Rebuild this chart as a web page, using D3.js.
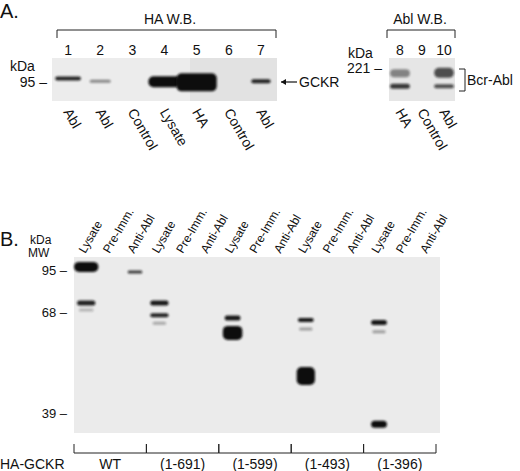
<!DOCTYPE html>
<html>
<head>
<style>
  html, body { margin: 0; background: #fff; }
  text { font-family: "Liberation Sans", Arial, sans-serif; fill: #111; }
</style>
<script src="https://d3js.org/d3.v7.min.js"></script>
</head>
<body>
<svg id="fig" width="520" height="471"></svg>
<script>
// ---- panel A data ----
var laneNumsA = ["1", "2", "3", "4", "5", "6", "7"];
var laneLabelsA = ["Abl", "Abl", "Control", "Lysate", "HA", "Control", "Abl"];
var laneNumsA2 = ["8", "9", "10"];
var laneLabelsA2 = ["HA", "Control", "Abl"];
// bands: lane index, kDa, width factor, height px, opacity
var bandsA = [
  { lane: 0, kda: 118, w: 0.8, h: 4, o: 0.9 },
  { lane: 1, kda: 99, w: 0.65, h: 3, o: 0.45 },
  { lane: 3, kda: 96, w: 1.0, h: 11, o: 1 },
  { lane: 4, kda: 93, w: 1.25, h: 18, o: 1 },
  { lane: 6, kda: 100, w: 0.6, h: 4, o: 0.9 }
];
var bandsA2 = [
  { lane: 0, kda: 160, w: 0.9, h: 8, o: 0.45 },
  { lane: 0, kda: 74, w: 0.9, h: 5, o: 0.8 },
  { lane: 2, kda: 165, w: 0.9, h: 10, o: 0.7 },
  { lane: 2, kda: 74, w: 0.9, h: 4, o: 0.7 }
];
// ---- panel B data ----
var laneLabelsB = ["Lysate", "Pre-Imm.", "Anti-Abl"];
var constructs = ["WT", "(1-691)", "(1-599)", "(1-493)", "(1-396)"];
var mwTicks = [95, 68, 39];
var bandsB = [
  { lane: 0, kda: 97, w: 1.0, h: 10, o: 1 },
  { lane: 0, kda: 73.8, w: 0.75, h: 5, o: 0.9 },
  { lane: 0, kda: 69.3, w: 0.6, h: 3, o: 0.25 },
  { lane: 2, kda: 93.7, w: 0.6, h: 3, o: 0.8 },
  { lane: 3, kda: 73.8, w: 0.75, h: 5, o: 0.95 },
  { lane: 3, kda: 67.1, w: 0.75, h: 4, o: 0.9 },
  { lane: 3, kda: 64.8, w: 0.55, h: 3, o: 0.3 },
  { lane: 6, kda: 66.3, w: 0.65, h: 5, o: 0.95 },
  { lane: 6, kda: 62.0, w: 0.8, h: 14, o: 1 },
  { lane: 9, kda: 65.7, w: 0.65, h: 4, o: 0.95 },
  { lane: 9, kda: 63.1, w: 0.55, h: 3, o: 0.35 },
  { lane: 9, kda: 49.6, w: 0.75, h: 18, o: 1 },
  { lane: 12, kda: 65.0, w: 0.65, h: 5, o: 0.95 },
  { lane: 12, kda: 62.3, w: 0.55, h: 3, o: 0.35 },
  { lane: 12, kda: 35.8, w: 0.65, h: 7, o: 1 }
];

var svg = d3.select("#fig");
var defs = svg.append("defs");
defs.append("filter").attr("id", "blur").attr("x", "-50%").attr("y", "-100%")
  .attr("width", "200%").attr("height", "300%")
  .append("feGaussianBlur").attr("stdDeviation", 1.1);

function drawBands(g, data, x, y) {
  g.selectAll("rect.band").data(data).enter().append("rect")
    .attr("class", "band")
    .attr("x", d => x(d.lane) + x.bandwidth() * (1 - d.w) / 2)
    .attr("width", d => x.bandwidth() * d.w)
    .attr("y", d => y(d.kda) - d.h / 2)
    .attr("height", d => d.h)
    .attr("rx", d => Math.min(d.h / 2, 5))
    .attr("fill", "#111")
    .attr("opacity", d => d.o)
    .attr("filter", "url(#blur)");
}
function bracket(x1, x2, yTop, yBot) {
  svg.append("path").attr("fill", "none").attr("stroke", "#222").attr("stroke-width", 1)
    .attr("d", "M" + x1 + "," + yBot + "V" + yTop + "H" + x2 + "V" + yBot);
}
function rotLabels(x, names, y0) {
  svg.selectAll(null).data(names).enter().append("text")
    .attr("transform", (d, i) => "translate(" + (x(i) + x.bandwidth() / 2 - 5) + "," + y0 + ") rotate(60)")
    .attr("font-size", 14).text(d => d);
}

// ---- Panel A ----
svg.append("text").attr("x", 0).attr("y", 18).attr("font-size", 20).text("A.");
var xA = d3.scaleBand().domain(d3.range(7)).range([52, 277]);
var yA = d3.scaleLog().domain([95, 221]).range([82, 68]);
var blotA = svg.append("g");
blotA.append("rect").attr("x", 52).attr("y", 58).attr("width", 138).attr("height", 43).attr("fill", "#ececec");
blotA.append("rect").attr("x", 190).attr("y", 58).attr("width", 87).attr("height", 43).attr("fill", "#e2e2e2");
drawBands(blotA, bandsA, xA, yA);
bracket(57, 276, 30, 38);
svg.append("text").attr("x", 170).attr("y", 24).attr("text-anchor", "middle").attr("font-size", 14).text("HA W.B.");
svg.selectAll(null).data(laneNumsA).enter().append("text")
  .attr("x", (d, i) => xA(i) + xA.bandwidth() / 2).attr("y", 55)
  .attr("text-anchor", "middle").attr("font-size", 14).text(d => d);
svg.append("text").attr("x", 10).attr("y", 71).attr("font-size", 14).text("kDa");
svg.append("text").attr("x", 47).attr("y", yA(95) + 5).attr("text-anchor", "end").attr("font-size", 14).text("95 –");
svg.append("path").attr("d", "M281," + yA(95) + "H297").attr("stroke", "#111").attr("stroke-width", 1.2);
svg.append("path").attr("d", "M281," + yA(95) + "l5,-3v6z").attr("fill", "#111");
svg.append("text").attr("x", 299).attr("y", yA(95) + 5).attr("font-size", 14).text("GCKR");
rotLabels(xA, laneLabelsA, 112);

var xA2 = d3.scaleBand().domain(d3.range(3)).range([389, 455]);
var blotA2 = svg.append("g");
blotA2.append("rect").attr("x", 389).attr("y", 58).attr("width", 66).attr("height", 43).attr("fill", "#e6e6e6");
drawBands(blotA2, bandsA2, xA2, yA);
bracket(387, 455, 30, 38);
svg.append("text").attr("x", 420).attr("y", 24).attr("text-anchor", "middle").attr("font-size", 14).text("Abl W.B.");
svg.selectAll(null).data(laneNumsA2).enter().append("text")
  .attr("x", (d, i) => xA2(i) + xA2.bandwidth() / 2).attr("y", 55)
  .attr("text-anchor", "middle").attr("font-size", 14).text(d => d);
svg.append("text").attr("x", 348).attr("y", 58).attr("font-size", 14).text("kDa");
svg.append("text").attr("x", 382).attr("y", yA(221) + 5).attr("text-anchor", "end").attr("font-size", 14).text("221 –");
svg.append("path").attr("fill", "none").attr("stroke", "#222").attr("d", "M459,69H465V91H459");
svg.append("text").attr("x", 467).attr("y", 85).attr("font-size", 14).text("Bcr-Abl");
rotLabels(xA2, laneLabelsA2, 112);

// ---- Panel B ----
svg.append("text").attr("x", 0).attr("y", 246).attr("font-size", 20).text("B.");
var xB = d3.scaleBand().domain(d3.range(15)).range([74, 440]);
var yB = d3.scaleLinear().domain(mwTicks).range([270, 312, 413]);
var blotB = svg.append("g");
blotB.append("rect").attr("x", 74).attr("y", 257).attr("width", 366).attr("height", 176).attr("fill", "#ebebeb");
drawBands(blotB, bandsB, xB, yB);
svg.selectAll(null).data(mwTicks).enter().append("text")
  .attr("x", 67).attr("y", d => yB(d) + 5).attr("text-anchor", "end").attr("font-size", 13)
  .text(d => d + " –");
svg.append("text").attr("x", 30).attr("y", 244).attr("font-size", 12).text("kDa");
svg.append("text").attr("x", 28).attr("y", 257).attr("font-size", 12).text("MW");
svg.selectAll(null).data(d3.range(15)).enter().append("text")
  .attr("transform", i => "translate(" + (xB(i) + xB.bandwidth() / 2 - 1) + ",254) rotate(-60)")
  .attr("font-size", 12).text(i => laneLabelsB[i % 3]);
var xC = d3.scaleBand().domain(constructs).range([74, 436]);
constructs.forEach(function (c) {
  var x0 = xC(c);
  svg.append("path").attr("fill", "none").attr("stroke", "#222")
    .attr("d", "M" + x0 + ",444V453H" + (x0 + xC.bandwidth()) + "V444");
});
svg.selectAll(null).data(constructs).enter().append("text")
  .attr("x", d => xC(d) + xC.bandwidth() / 2).attr("y", 469)
  .attr("text-anchor", "middle").attr("font-size", 14).text(d => d);
svg.append("text").attr("x", 0).attr("y", 469).attr("font-size", 14).text("HA-GCKR");
</script>
</body>
</html>
